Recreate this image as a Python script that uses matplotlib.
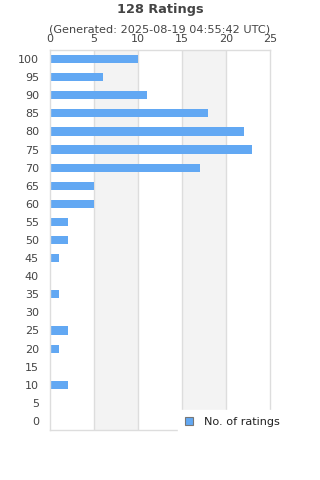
import matplotlib
matplotlib.use("Agg")
import matplotlib.pyplot as plt
from matplotlib.patches import Patch

categories = ["100", "95", "90", "85", "80", "75", "70", "65", "60", "55", "50",
              "45", "40", "35", "30", "25", "20", "15", "10", "5", "0"]
counts = [10, 6, 11, 18, 22, 23, 17, 5, 5, 2, 2, 1, 0, 1, 0, 2, 1, 0, 2, 0, 0]
x_ticks = [0, 5, 10, 15, 20, 25]
title = "128 Ratings"
subtitle = "(Generated: 2025-08-19 04:55:42 UTC)"
legend_label = "No. of ratings"

bar_color = "#62a8f3"
text_color = "#444444"
grid_color = "#dddddd"

fig = plt.figure(figsize=(3.2, 4.8), dpi=100)
ax = fig.add_axes([50/320, 1-430/480, 220/320, 380/480])

ypos = list(range(len(categories)))
# alternating bands
for i in range(len(x_ticks) - 1):
    if i % 2 == 1:
        ax.axvspan(x_ticks[i], x_ticks[i+1], color="#f3f3f3", zorder=0, lw=0)
for t in x_ticks[1:-1]:
    ax.axvline(t, color=grid_color, lw=1, zorder=1)

ax.barh(ypos, counts, height=0.45, color=bar_color, zorder=2)
ax.set_ylim(len(categories) - 0.5, -0.5)
ax.set_xlim(0, 25)
ax.set_yticks(ypos)
ax.set_yticklabels(categories)
ax.set_xticks(x_ticks)
ax.xaxis.tick_top()
ax.tick_params(axis="both", length=0, labelsize=8, colors=text_color)
ax.tick_params(axis="x", pad=4)
ax.tick_params(axis="y", pad=8)
for s in ax.spines.values():
    s.set_color(grid_color)
    s.set_linewidth(1)

fig.text(0.5, 1-10/480, title, ha="center", va="center", fontsize=9.3,
         fontweight="bold", color=text_color)
fig.text(0.5, 1-30/480, subtitle, ha="center", va="center", fontsize=8.1,
         color=text_color)

handle = Patch(facecolor=bar_color, edgecolor="#777777", linewidth=0.8)
leg = fig.legend([handle], [legend_label], loc="center left",
                 bbox_to_anchor=(178/320, 1-422/480), frameon=True,
                 fontsize=8.1, handlelength=0.7, handleheight=0.7,
                 handletextpad=1.0, borderpad=0.6, borderaxespad=0)
leg.get_frame().set_facecolor("white")
leg.get_frame().set_edgecolor("white")
leg.get_frame().set_alpha(1)
leg.get_frame().set_boxstyle("square", pad=0)
leg.set_zorder(10)
for t in leg.get_texts():
    t.set_color("#222222")

fig.savefig("out.png", dpi=100)
